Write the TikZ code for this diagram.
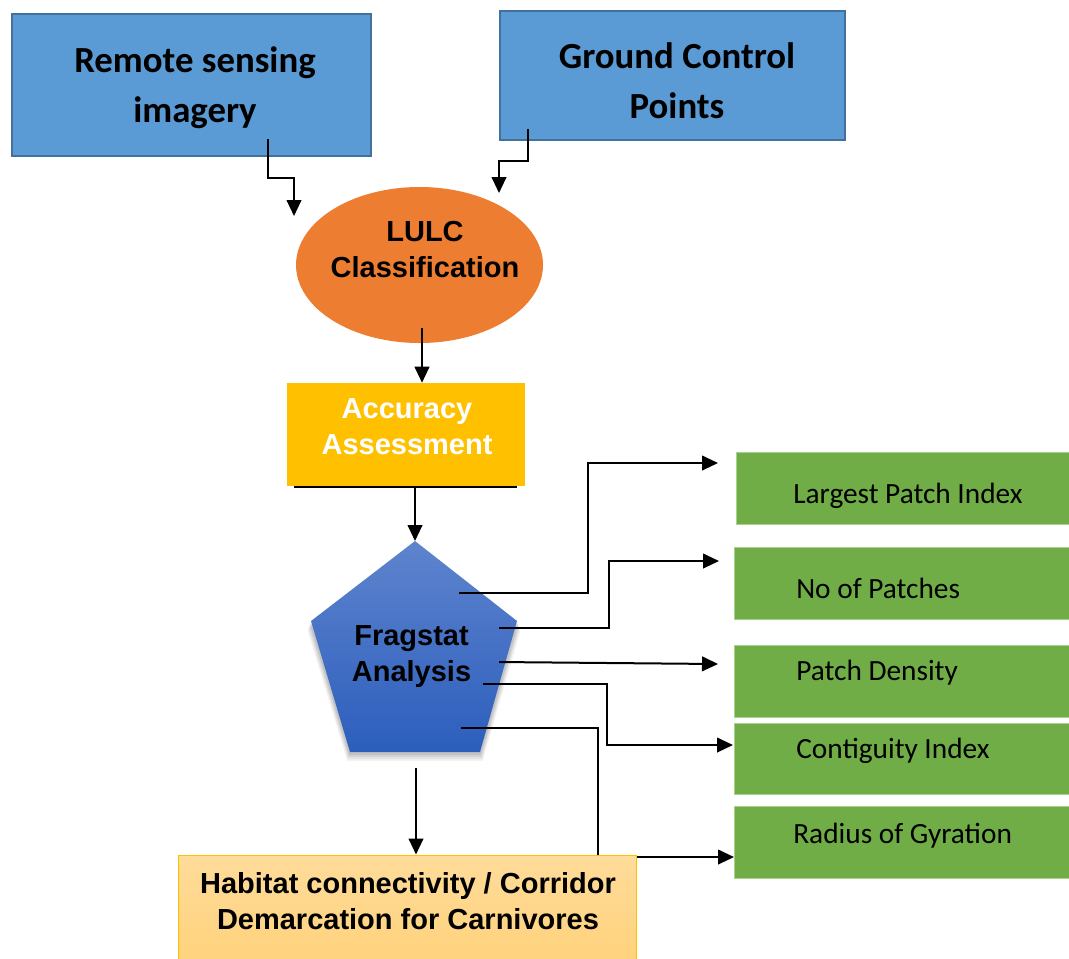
\documentclass[tikz,border=0pt]{standalone}
\usepackage{fontspec}
\setmainfont{Liberation Sans}
\newfontfamily\calfam{Carlito}
\newfontfamily\arialfam{Liberation Sans}
\usetikzlibrary{arrows.meta,shapes.geometric,fit}
\definecolor{boxblue}{HTML}{5B9BD5}
\definecolor{boxedge}{HTML}{41719C}
\definecolor{lulcorange}{HTML}{ED7D31}
\definecolor{accyellow}{HTML}{FFC000}
\definecolor{boxgreen}{HTML}{70AD47}
\definecolor{greenedge}{HTML}{A9D18E}
\definecolor{habtop}{HTML}{FFDC9A}
\definecolor{habbot}{HTML}{FFD27C}
\definecolor{pentop}{HTML}{5E84CD}
\definecolor{penbot}{HTML}{2C5EBD}
\tikzset{
  bluebox/.style={draw=boxedge, line width=1.5pt, fill=boxblue, inner sep=0pt},
  greenbox/.style={draw=greenedge, line width=0.75pt, fill=boxgreen, inner sep=0pt},
  caltxt/.style={font=\calfam\bfseries\fontsize{27.6}{37.5}\selectfont, align=center, text=black, inner sep=0pt},
  arialtxt/.style={font=\arialfam\bfseries\fontsize{21.75}{27}\selectfont, align=center, inner sep=0pt},
  greentxt/.style={font=\calfam\fontsize{22}{26}\selectfont, anchor=west, inner sep=0pt, text=black},
  conn/.style={line width=1.5pt, -{Triangle[length=12pt, width=11pt]}},
  plainline/.style={line width=1.5pt}
}
\begin{document}
\begin{tikzpicture}[x=0.75pt,y=-0.75pt]
\useasboundingbox (0,0) rectangle (1069,958);

% top blue boxes
\node[bluebox, fit={(12,14) (371,156)}] (rs) {};
\node[caltxt] (rstxt) at (195,88) {Remote sensing\\imagery};
\node[bluebox, fit={(500,11) (845,140)}] (gcp) {};
\node[caltxt] (gcptxt) at (677,81) {Ground Control\\Points};

% LULC ellipse
\node[ellipse, fill=lulcorange, inner sep=0pt, minimum width=247*0.75pt, minimum height=156*0.75pt] (lulc) at (419.5,265) {};
\node[arialtxt] (lulctxt) at (425,250) {LULC\\Classification};

% connectors into LULC
\coordinate (rsout) at (268,139);
\coordinate (rsend) at (294,216);
\draw[conn] (rsout) -- (268,178) -- (294,178) -- (rsend);
\coordinate (gcpout) at (528,129);
\coordinate (gcpend) at (499,193);
\draw[conn] (gcpout) -- (528,161) -- (499,161) -- (gcpend);

% Accuracy assessment
\node[fill=accyellow, inner sep=0pt, fit={(287,383) (525,486)}] (acc) {};
\node[arialtxt, text=white] (acctxt) at (407,427) {Accuracy\\Assessment};
\draw[plainline] (294,487) coordinate (accl) -- (517,487) coordinate (accr);
\coordinate (lulcout) at (422,328);
\draw[conn] (lulcout) -- (lulcout |- acc.north);

% Fragstat pentagon
\foreach \d/\o in {9/0.05,7/0.06,5/0.07,3/0.08}{
  \fill[black, opacity=\o] (415,541+\d) -- (517+\d*0.4,621+\d) -- (480+\d*0.3,752+\d) -- (350-\d*0.3,752+\d) -- (311-\d*0.4,621+\d) -- cycle;
}
\path[top color=pentop, bottom color=penbot] (415,541) coordinate (fapex) -- (517,621) -- (480,752) -- (350,752) -- (311,621) -- cycle;
\node[arialtxt, text=black] (frag) at (411.5,657) {Fragstat\\Analysis};
\draw[conn] (415,487) coordinate (accout) -- (fapex);

% green metric boxes
\node[greenbox, fit={(736,452) (1069,524)}] (lpi) {};
\node[greentxt] (lpitxt) at (793,496) {Largest Patch Index};
\node[greenbox, fit={(734,547) (1069,619)}] (nop) {};
\node[greentxt] (noptxt) at (796,588) {No of Patches};
\node[greenbox, fit={(734,645) (1069,717)}] (pd) {};
\node[greentxt] (pdtxt) at (796,673) {Patch Density};
\node[greenbox, fit={(734,723) (1069,794)}] (ci) {};
\node[greentxt] (citxt) at (796,751) {Contiguity Index};
\node[greenbox, fit={(734,806) (1069,878)}] (rg) {};
\node[greentxt] (rgtxt) at (793,836) {Radius of Gyration};

% connectors from Fragstat
\coordinate (f1) at (459,593); \coordinate (e1) at (718,463);
\draw[conn] (f1) -- (588,593) -- (588,463) -- (e1);
\coordinate (f2) at (499,628); \coordinate (e2) at (719,561);
\draw[conn] (f2) -- (609,628) -- (609,561) -- (e2);
\coordinate (f3) at (499,662); \coordinate (e3) at (718,664);
\draw[conn] (f3) -- (e3);
\coordinate (f4) at (483,684); \coordinate (e4) at (733,745);
\draw[conn] (f4) -- (607,684) -- (607,745) -- (e4);
\coordinate (f5) at (461,728); \coordinate (e5) at (734,857);
\draw[conn] (f5) -- (598,728) -- (598,857) -- (e5);

% Habitat box
\node[draw=accyellow, line width=0.75pt, top color=habtop, bottom color=habbot, inner sep=0pt, fit={(178,855) (636,962)}] (hab) {};
\node[arialtxt, text=black] (habtxt) at (408,901) {Habitat connectivity / Corridor\\Demarcation for Carnivores};
\coordinate (fragout) at (416,768);
\draw[conn] (fragout) -- (fragout |- hab.north);
\end{tikzpicture}
\end{document}
